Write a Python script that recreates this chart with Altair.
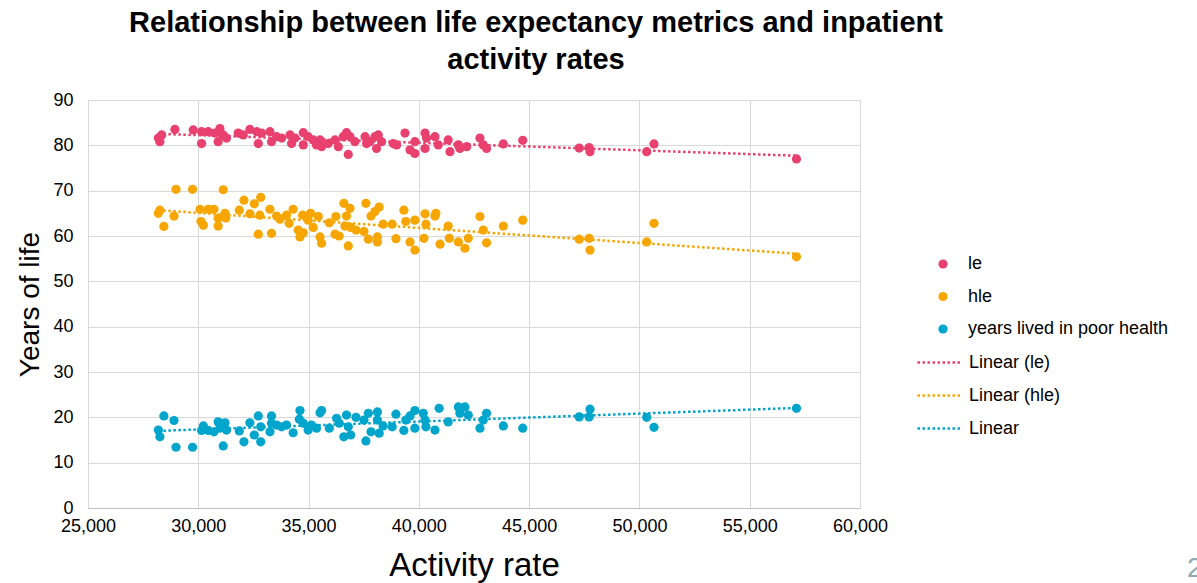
import altair as alt
import pandas as pd

# ---- data ----
le_x = [28190, 28340, 28260, 28940, 29770, 30150, 30150, 30450, 30750, 30980, 31130, 30900, 31280,
        31810, 32040, 32340, 32650, 32870, 32720, 33250, 33320, 33550, 33780, 34160, 34230, 34380,
        34760, 34760, 34980, 35210, 35360, 35590, 35520, 35890, 36200, 36350, 36570, 36720, 36880,
        36800, 37100, 37560, 37630, 37780, 38010, 38160, 38080, 38310, 38840, 38990, 39370, 39600,
        39820, 39820, 40280, 40350, 40280, 40730, 40880, 41330, 41410, 41790, 41860, 42170, 42770,
        42920, 43070, 43830, 44710, 47270, 47720, 47760, 50330, 50660, 57120]
le_y = [81.6, 82.3, 80.8, 83.5, 83.4, 83.0, 80.4, 83.0, 82.7, 83.7, 82.3, 80.8, 81.6,
        82.7, 82.3, 83.5, 83.0, 82.7, 80.4, 83.0, 80.8, 81.9, 81.6, 82.3, 80.4, 81.6,
        82.8, 80.1, 81.9, 81.2, 80.1, 79.7, 81.2, 80.4, 81.2, 79.7, 81.9, 82.8, 81.9,
        78.0, 80.8, 81.9, 80.4, 80.8, 81.9, 82.3, 79.3, 80.8, 80.4, 80.1, 82.7, 79.0,
        80.8, 78.2, 82.7, 81.6, 79.3, 81.9, 80.1, 81.2, 78.6, 80.1, 79.3, 79.7, 81.6,
        80.1, 79.3, 80.3, 81.1, 79.4, 79.5, 78.6, 78.6, 80.3, 77.0]

hle_x = [28190, 28260, 28440, 28900, 28990, 29740, 30080, 30120, 30230, 30450, 30710, 30900, 30900,
         31130, 31210, 31250, 31860, 32070, 32340, 32540, 32830, 32720, 32790, 33250, 33320, 33550,
         33700, 34000, 34120, 34300, 34530, 34610, 34730, 34760, 34980, 35090, 35210, 35440, 35520,
         35590, 35940, 36240, 36200, 36390, 36600, 36650, 36720, 36880, 36800, 36910, 37150, 37600,
         37510, 37710, 37830, 38120, 38120, 38010, 38200, 38380, 38790, 38960, 39320, 39410, 39600,
         39820, 39820, 40280, 40320, 40230, 40730, 40770, 40960, 41330, 41380, 41790, 42090, 42240,
         42770, 42920, 43070, 43830, 44710, 47270, 47720, 47760, 50330, 50660, 57120]
hle_y = [65.0, 65.7, 62.1, 64.4, 70.3, 70.3, 65.9, 63.2, 62.4, 65.9, 65.9, 63.9, 62.2,
         70.2, 65.0, 64.0, 65.7, 67.9, 64.9, 67.1, 68.5, 60.4, 64.6, 65.9, 60.6, 64.4,
         63.7, 64.6, 62.8, 65.9, 61.3, 59.8, 64.6, 60.7, 63.5, 65.0, 61.9, 64.3, 59.8,
         58.4, 62.9, 64.3, 60.4, 60.0, 67.2, 62.2, 64.4, 66.1, 57.8, 61.9, 61.3, 67.2,
         61.0, 59.3, 64.4, 59.8, 58.7, 65.4, 66.4, 62.6, 62.6, 59.4, 65.7, 63.2, 58.7,
         63.5, 56.9, 64.9, 62.6, 59.5, 64.4, 65.0, 58.2, 62.2, 59.5, 58.7, 57.3, 59.5,
         64.3, 61.3, 58.5, 62.2, 63.5, 59.3, 59.5, 56.9, 58.7, 62.8, 55.4]

poor_x = [28190, 28260, 28440, 28900, 28990, 29740, 30150, 30230, 30450, 30710, 30900, 30980, 31130,
          31210, 31280, 31860, 32070, 32340, 32540, 32720, 32830, 32830, 33250, 33320, 33320, 33550,
          33780, 34000, 34300, 34610, 34580, 34760, 34980, 35130, 35360, 35590, 35520, 35940, 36270,
          36390, 36600, 36720, 36800, 36910, 37150, 37510, 37600, 37710, 37830, 38120, 38120, 38200,
          38380, 38790, 38960, 39320, 39410, 39600, 39820, 39820, 40200, 40280, 40320, 40730, 40920,
          41330, 41790, 42090, 41860, 42240, 42770, 42920, 43070, 43830, 44710, 47270, 47760, 47720,
          50330, 50660, 57120]
poor_y = [17.2, 15.7, 20.3, 19.3, 13.4, 13.4, 17.1, 18.1, 17.1, 16.8, 19.0, 17.6, 13.7,
          18.8, 17.2, 17.0, 14.6, 18.8, 16.1, 20.3, 14.6, 17.9, 16.8, 20.3, 18.7, 18.3,
          17.9, 18.3, 16.6, 21.5, 19.6, 18.7, 17.2, 18.3, 17.6, 21.5, 21.0, 17.6, 19.8,
          18.7, 15.7, 20.5, 17.9, 16.1, 20.0, 19.4, 14.8, 20.9, 16.8, 21.2, 19.4, 16.5,
          18.1, 17.9, 20.7, 17.1, 19.4, 20.3, 21.5, 17.6, 20.9, 19.4, 17.9, 17.2, 22.0,
          19.0, 22.3, 22.3, 20.9, 20.5, 17.6, 19.4, 20.9, 18.1, 17.6, 20.1, 21.8, 20.1,
          20.0, 17.8, 22.0]

series_names = ["le", "hle", "years lived in poor health"]
trend_names = ["Linear (le)", "Linear (hle)", "Linear"]
colors = ["#E9416F", "#F7A600", "#00A5CB"]

rows = []
for name, xs, ys in [(series_names[0], le_x, le_y),
                     (series_names[1], hle_x, hle_y),
                     (series_names[2], poor_x, poor_y)]:
    for xv, yv in zip(xs, ys):
        rows.append({"series": name, "x": xv, "y": yv})
df = pd.DataFrame(rows)

FONT = "Liberation Sans"

base = alt.Chart(df)

x_enc = alt.X("x:Q", scale=alt.Scale(domain=[25000, 60000], nice=False, zero=False),
              axis=alt.Axis(values=list(range(25000, 60001, 5000)), format=",.0f",
                            title="Activity rate", titleFontSize=33, titleFontWeight="normal",
                            titlePadding=14, labelFontSize=18, labelPadding=9,
                            labelFlush=False, labelOverlap=False,
                            ticks=False, domain=True, domainColor="#bfbfbf",
                            grid=True, gridColor="#d9d9d9"))
y_enc = alt.Y("y:Q", scale=alt.Scale(domain=[0, 90], nice=False),
              axis=alt.Axis(values=list(range(0, 91, 10)), title="Years of life",
                            titleFontSize=28, titleFontWeight="normal", titlePadding=8,
                            labelFontSize=18, labelPadding=15, ticks=False, domain=False,
                            labelFlush=False, labelOverlap=False,
                            grid=True, gridColor="#d9d9d9"))

trend_label = ("datum.series == 'le' ? 'Linear (le)' : "
               "(datum.series == 'hle' ? 'Linear (hle)' : 'Linear')")

lines = base.transform_regression(
    "x", "y", groupby=["series"], method="linear"
).transform_calculate(
    trend=trend_label
).mark_line(strokeDash=[2.5, 2.5], strokeWidth=2.5).encode(
    x=x_enc,
    y=y_enc,
    stroke=alt.Stroke("trend:N", scale=alt.Scale(domain=trend_names, range=colors),
                      legend=alt.Legend(title=None, orient="none", legendX=828, legendY=239,
                                        symbolType="stroke", symbolSize=1936,
                                        symbolDash=[2.5, 2.5], symbolStrokeWidth=2.5,
                                        labelOffset=6, rowPadding=-1, labelFontSize=18,
                                        labelLimit=400,
                                        labelColor="#000000", labelFont=FONT)),
)

points = base.mark_circle(size=85, opacity=1).encode(
    x=x_enc,
    y=y_enc,
    fill=alt.Fill("series:N", scale=alt.Scale(domain=series_names, range=colors),
                  legend=alt.Legend(title=None, orient="none", legendX=846, legendY=155,
                                    symbolType="circle", symbolSize=85, symbolStrokeWidth=0,
                                    labelOffset=16, rowPadding=14.5, labelFontSize=18,
                                    labelLimit=400,
                                    labelColor="#000000", labelFont=FONT)),
)

page_num = alt.Chart(pd.DataFrame({"t": ["2"]})).mark_text(
    align="left", baseline="alphabetic", fontSize=28, color="#8fa9b5", font=FONT
).encode(x=alt.value(1099), y=alt.value(477), text="t:N")

chart = alt.layer(lines, points, page_num).properties(
    width=772,
    height=408,
    autosize=alt.AutoSizeParams(type="none"),
    padding={"left": 88, "top": 100, "right": 337, "bottom": 75},
    title=alt.Title(["Relationship between life expectancy metrics and inpatient",
                     "activity rates"],
                    fontSize=29, fontWeight="bold", font=FONT, color="#000000",
                    lineHeight=37, anchor="middle", dx=62, offset=16),
).configure_view(stroke=None).configure_axis(
    labelFont=FONT, titleFont=FONT, labelColor="#000000", titleColor="#000000"
).configure(background="white")

chart.save("out.html", embed_options={"renderer": "svg", "actions": False})
